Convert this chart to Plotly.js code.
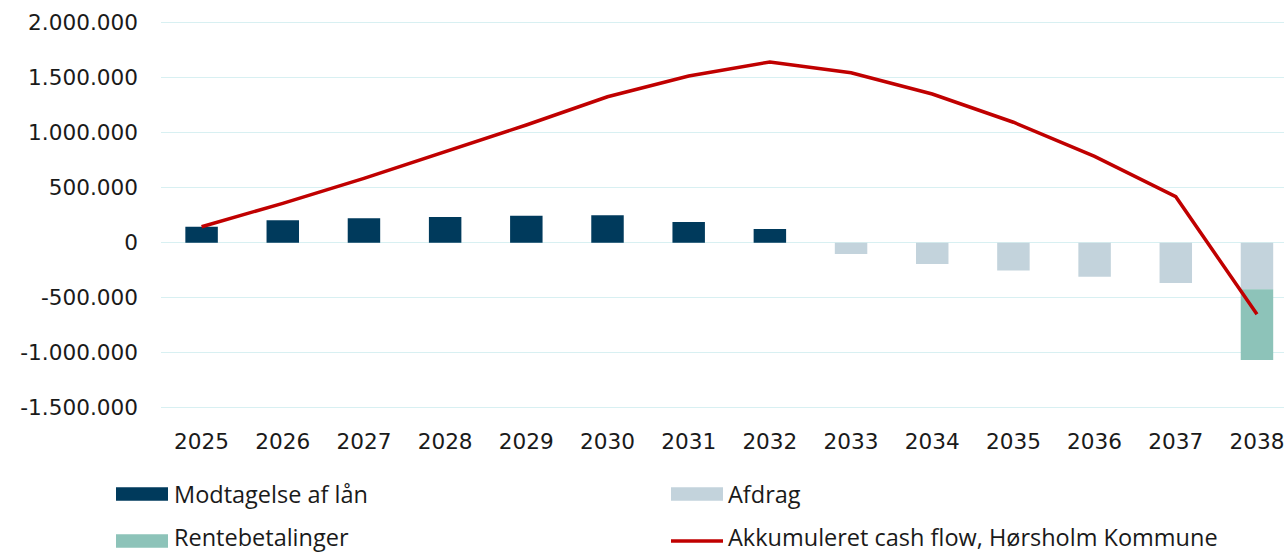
<!DOCTYPE html>
<html>
<head>
<meta charset="utf-8">
<script src="https://cdn.plot.ly/plotly-3.0.1.min.js"></script>
<style>html,body{margin:0;padding:0;background:#fff;}#chart{width:1284px;height:554px;}</style>
</head>
<body>
<div id="chart"></div>
<script>
// ---- data ----
var years = ["2025","2026","2027","2028","2029","2030","2031","2032","2033","2034","2035","2036","2037","2038"];
var modtagelse = [145000, 204000, 222000, 234000, 245000, 249000, 188000, 125000, 0, 0, 0, 0, 0, 0];
var afdrag = [0, 0, 0, 0, 0, 0, 0, 0, -103000, -194000, -252000, -309000, -367000, -424000];
var rente = [0, 0, 0, 0, 0, 0, 0, 0, 0, 0, 0, 0, 0, -643000];
var akkumuleret = [145000, 358000, 585000, 827000, 1070000, 1327000, 1515000, 1643000, 1545000, 1352000, 1095000, 785000, 418000, -651000];
var seriesNames = ["Modtagelse af lån", "Afdrag", "Rentebetalinger", "Akkumuleret cash flow, Hørsholm Kommune"];
var yTickVals = [2000000, 1500000, 1000000, 500000, 0, -500000, -1000000, -1500000];
var yTickText = ["2.000.000", "1.500.000", "1.000.000", "500.000", "0", "-500.000", "-1.000.000", "-1.500.000"];

// ---- styles ----
var colors = ["#003a5c", "#c3d3dc", "#8dc3b9", "#c00000"];
var textColor = "#1a1a1a";
var W = 1284, H = 554;
var mL = 161, mR = 0, mT = 10, mB = 134;
var plotW = W - mL - mR, plotH = H - mT - mB;
function px2x(px){ return (px - mL) / plotW; }
function py2y(py){ return (H - mB - py) / plotH; }

var traces = [
  {type:"bar", x:years, y:modtagelse, name:seriesNames[0], marker:{color:colors[0]}, width:0.4},
  {type:"bar", x:years, y:afdrag, name:seriesNames[1], marker:{color:colors[1]}, width:0.4},
  {type:"bar", x:years, y:rente, name:seriesNames[2], marker:{color:colors[2]}, width:0.4},
  {type:"scatter", mode:"lines", x:years, y:akkumuleret, name:seriesNames[3], line:{color:colors[3], width:3.5}}
];

// custom legend (shapes + annotations)
var legendPos = [
  {sx0:116, sx1:168, y:494, tx:173, row:0},
  {sx0:671, sx1:723, y:494, tx:727, row:0},
  {sx0:116, sx1:168, y:541, tx:173, row:1},
  {sx0:671, sx1:723, y:541, tx:727, row:1}
];
var shapes = [], annotations = [];
legendPos.forEach(function(p, i){
  if (i === 3) {
    shapes.push({type:"line", xref:"paper", yref:"paper", x0:px2x(p.sx0), x1:px2x(p.sx1), y0:py2y(p.y), y1:py2y(p.y), line:{color:colors[i], width:3.5}});
  } else {
    shapes.push({type:"rect", xref:"paper", yref:"paper", x0:px2x(p.sx0), x1:px2x(p.sx1), y0:py2y(p.y-6.7), y1:py2y(p.y+6.7), fillcolor:colors[i], line:{width:0}});
  }
  var ann = {xref:"paper", yref:"paper", x:px2x(p.tx), xanchor:"left", showarrow:false, borderpad:0, text:seriesNames[i], font:{family:"'Open Sans', Lato, sans-serif", size:23.5, color:textColor}};
  if (p.row === 1) { ann.y = py2y(554); ann.yanchor = "bottom"; }
  else { ann.y = py2y(p.y); ann.yanchor = "middle"; }
  annotations.push(ann);
});

var layout = {
  width:W, height:H,
  margin:{l:mL, r:mR, t:mT, b:mB, pad:0},
  paper_bgcolor:"#fff", plot_bgcolor:"#fff",
  showlegend:false,
  barmode:"relative",
  font:{family:"'DejaVu Sans', sans-serif", size:22, color:textColor},
  xaxis:{type:"category", range:[-0.5, 13.333], showgrid:false, zeroline:false, showline:false, ticks:"", ticklabelstandoff:6, tickfont:{family:"'DejaVu Sans', sans-serif", size:21.6, color:textColor}, fixedrange:true},
  yaxis:{range:[-1611818, 2115455], tickvals:yTickVals, ticktext:yTickText, showgrid:true, gridcolor:"#d8f0f2", gridwidth:1.5, zeroline:true, zerolinecolor:"#d8f0f2", zerolinewidth:1.5, showline:false, ticks:"", ticklabelstandoff:22, tickfont:{family:"'DejaVu Sans', sans-serif", size:21.6, color:textColor}, fixedrange:true},
  shapes:shapes,
  annotations:annotations
};

Plotly.newPlot("chart", traces, layout, {displayModeBar:false, staticPlot:true});
</script>
</body>
</html>
